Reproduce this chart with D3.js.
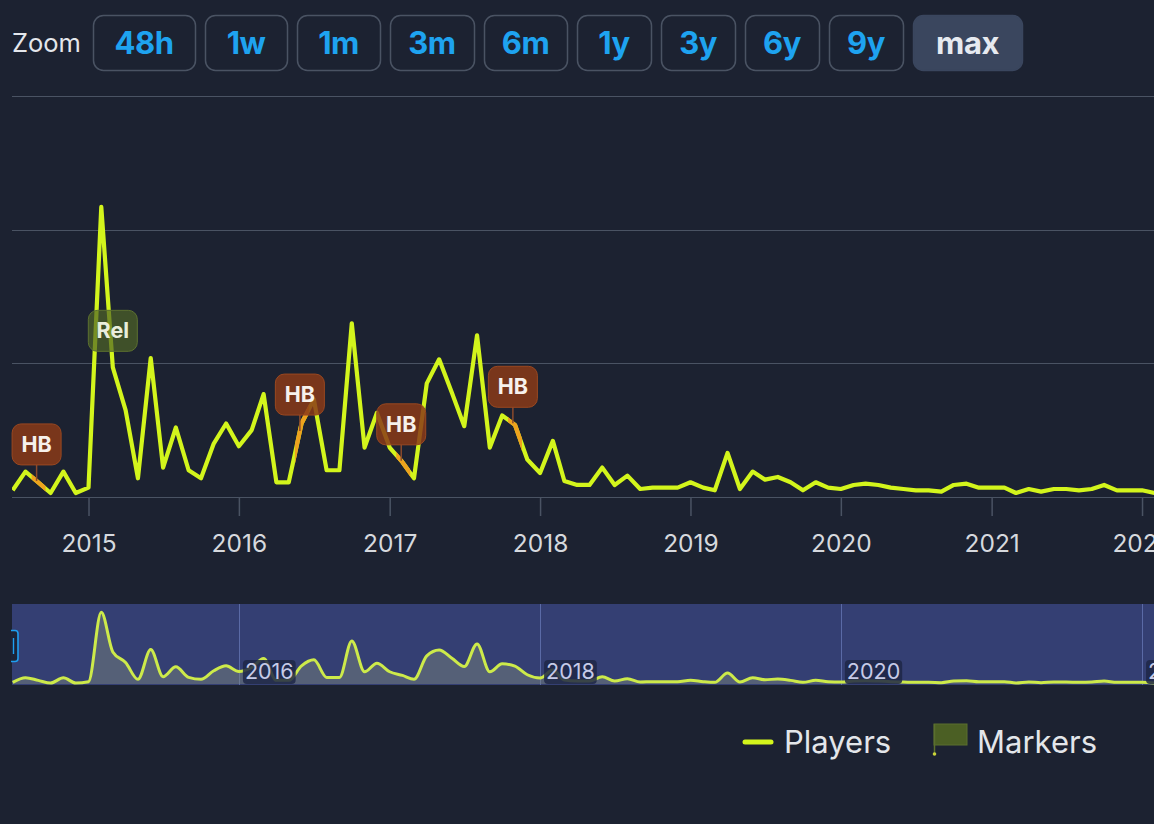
<!DOCTYPE html>
<html><head><meta charset="utf-8">
<script src="https://cdn.jsdelivr.net/npm/d3@7"></script>
<style>
html,body{margin:0;padding:0;background:#1c2231;overflow:hidden;}
svg{display:block;font-family:Inter,"Noto Sans",sans-serif;}
</style></head>
<body>
<svg id="c" width="1154" height="824"></svg>
<script>
// ---- data ----
const zoomLabels = ["48h","1w","1m","3m","6m","1y","3y","6y","9y","max"];
const activeZoom = "max";
const startMonth = "2014-07-01";
// monthly players (relative units, gridline = 1)
const players = [
  0.05,0.19,0.11,0.03,0.19,0.03,
  0.07,2.17,0.97,0.65,0.14,1.04,0.22,0.52,0.20,0.14,0.40,0.55,
  0.38,0.50,0.77,0.11,0.11,0.55,0.73,0.20,0.20,1.30,0.37,0.63,
  0.37,0.26,0.14,0.85,1.03,0.78,0.53,1.21,0.37,0.61,0.54,0.28,
  0.18,0.42,0.12,0.09,0.09,0.22,0.09,0.16,0.06,0.07,0.07,0.07,
  0.11,0.07,0.05,0.33,0.06,0.19,0.13,0.15,0.11,0.05,0.11,0.07,
  0.06,0.09,0.10,0.09,0.07,0.06,0.05,0.05,0.04,0.09,0.10,0.07,
  0.07,0.07,0.03,0.06,0.04,0.06,0.06,0.05,0.06,0.09,0.05,0.05,
  0.05,0.03
];
const markerDates = ["2014-08-28","2015-03-01","2016-05-28","2017-01-29","2017-10-27"];
const markerLabels = ["HB","Rel","HB","HB","HB"];
const yTicks = [0,1,2,3];
const legendLabels = ["Players","Markers"];

// ---- derived ----
const parse = d3.utcParse("%Y-%m-%d");
const t0 = parse(startMonth);
const series = players.map((v,i)=>({date:d3.utcMonth.offset(t0,i), v}));
const markers = markerDates.map((d,i)=>({date:parse(d), label:markerLabels[i]}));

const W = 1154;
const svg = d3.select("#c");

// ---- zoom buttons ----
svg.append("text").attr("x",12).attr("y",52).attr("fill","#e4e7ec")
  .attr("font-size",25.5).text("Zoom");
let bx = 93;
const widths = {"48h":102,"1w":82,"1m":83,"3m":84,"6m":83,"1y":74,"3y":74,"6y":74,"9y":74,"max":109};
const gB = svg.append("g");
zoomLabels.forEach((z)=>{
  const w = widths[z];
  const act = z===activeZoom;
  gB.append("rect").attr("x",bx+0.5).attr("y",15.5).attr("width",w).attr("height",55).attr("rx",10)
    .attr("fill",act?"#3a465e":"none").attr("stroke",act?"#3a465e":"#4a5363").attr("stroke-width",1.5);
  gB.append("text").attr("x",bx+w/2).attr("y",54).attr("text-anchor","middle")
    .attr("font-size",31).attr("font-weight",700).attr("letter-spacing",-0.5)
    .attr("fill",act?"#e6eaf0":"#1ea3f0").text(z);
  bx += w + 10;
});

// ---- main chart ----
const x = d3.scaleUtc().domain([parse("2014-07-01"), parse("2022-02-01")]).range([12.7,1154.8]);
const y = d3.scaleLinear().domain([0,3]).range([497,96]);

const defs = svg.append("defs");
defs.append("clipPath").attr("id","plot").append("rect").attr("x",12).attr("y",80).attr("width",W-12).attr("height",430);

// gridlines
svg.append("g").selectAll("line").data(yTicks).join("line")
  .attr("x1",12).attr("x2",W).attr("y1",d=>Math.round(y(d))+0.5).attr("y2",d=>Math.round(y(d))+0.5)
  .attr("stroke","#4a5363").attr("stroke-width",1.2);

// x axis
const xAxis = d3.axisBottom(x).ticks(d3.utcYear.every(1)).tickFormat(d3.utcFormat("%Y")).tickSize(19).tickPadding(19);
const gx = svg.append("g").attr("transform","translate(0,497)").call(xAxis);
gx.select(".domain").remove();
gx.selectAll(".tick line").attr("stroke","#4a5363").attr("stroke-width",1.5);
gx.selectAll(".tick text").attr("fill","#d6d9de").attr("font-size",24.5).attr("font-family","Inter,'Noto Sans',sans-serif");

const line = d3.line().x(d=>x(d.date)).y(d=>y(d.v));
const plot = svg.append("g").attr("clip-path","url(#plot)");
plot.append("path").datum(series).attr("d",line).attr("fill","none")
  .attr("stroke","#d3f51c").attr("stroke-width",4.2).attr("stroke-linejoin","round");

// value at a date by interpolation
function valAt(date){
  const bis = d3.bisector(d=>d.date).left;
  let i = bis(series,date);
  if(i<=0) return series[0].v;
  if(i>=series.length) return series[series.length-1].v;
  const a=series[i-1], b=series[i];
  const t=(date-a.date)/(b.date-a.date);
  return a.v+(b.v-a.v)*t;
}

// orange highlight segments for HB markers
markers.filter(m=>m.label==="HB").forEach((m,i)=>{
  const mx = x(m.date);
  const id = "hl"+i;
  defs.append("clipPath").attr("id",id).append("rect").attr("x",mx-5).attr("y",80).attr("width",14).attr("height",430);
  plot.append("path").datum(series).attr("d",line).attr("fill","none").attr("clip-path",`url(#${id})`)
    .attr("stroke","#eea21e").attr("stroke-width",4.2).attr("stroke-linejoin","round");
});

// flags
const gF = svg.append("g");
markers.forEach(m=>{
  const mx = x(m.date);
  const ly = y(valAt(m.date));
  const bw = 49, bh = 41, gap = 16;
  const top = ly - gap - bh;
  const isHB = m.label==="HB";
  if(isHB){
    gF.append("line").attr("x1",mx).attr("x2",mx).attr("y1",top+bh).attr("y2",ly)
      .attr("stroke","#8a4a2c").attr("stroke-width",1.5);
  }
  gF.append("rect").attr("x",mx-bw/2).attr("y",top).attr("width",bw).attr("height",bh).attr("rx",9)
    .attr("fill",isHB?"#8a3a18":"#4e6426").attr("fill-opacity",isHB?0.85:0.7)
    .attr("stroke",isHB?"#9a4820":"#5c7030").attr("stroke-width",1);
  gF.append("text").attr("x",mx).attr("y",top+bh/2+7.5).attr("text-anchor","middle")
    .attr("font-size",21.5).attr("font-weight",700).attr("fill",isHB?"#f6f1ec":"#e9eddc").text(m.label);
});

// ---- navigator ----
const navTop = 604, navBot = 685;
svg.append("rect").attr("x",12).attr("y",navTop).attr("width",W-12).attr("height",navBot-navTop).attr("fill","#343f73");
const yN = d3.scaleLinear().domain([0,2.42]).range([684,604]);
const gN = svg.append("g");
const navYears = x.ticks(d3.utcYear.every(2));
gN.selectAll("line.ng").data(navYears).join("line").attr("class","ng")
  .attr("x1",d=>Math.round(x(d))+0.5).attr("x2",d=>Math.round(x(d))+0.5).attr("y1",navTop).attr("y2",navBot)
  .attr("stroke","#5a6aa6").attr("stroke-width",1);
const area = d3.area().x(d=>x(d.date)).y0(684).y1(d=>yN(d.v)).curve(d3.curveMonotoneX);
const nline = d3.line().x(d=>x(d.date)).y(d=>yN(d.v)).curve(d3.curveMonotoneX);
gN.append("path").datum(series).attr("d",area).attr("fill","#7f8a7c").attr("fill-opacity",0.45);
gN.append("path").datum(series).attr("d",nline).attr("fill","none").attr("stroke","#cdea4a").attr("stroke-width",3);
navYears.forEach(d=>{
  const tx = x(d)+6;
  const t = gN.append("text").attr("x",tx).attr("y",679).attr("font-size",21.5).attr("fill","#c6cbe8")
    .text(d3.utcFormat("%Y")(d));
  const bb = t.node().getBBox();
  gN.insert("rect","text").attr("x",bb.x-2).attr("y",bb.y+2).attr("width",bb.width+4).attr("height",bb.height-2)
    .attr("rx",4).attr("fill","#1f2746").attr("fill-opacity",0.85);
});
gN.selectAll("text").raise();
// left handle
svg.append("rect").attr("x",6).attr("y",630.5).attr("width",12).attr("height",31).attr("rx",3)
  .attr("fill","#1c2438").attr("stroke","#1e9ff0").attr("stroke-width",1.6);
svg.append("line").attr("x1",13.5).attr("x2",13.5).attr("y1",638).attr("y2",654).attr("stroke","#1e9ff0").attr("stroke-width",1.4);
svg.append("rect").attr("x",0).attr("y",600).attr("width",11).attr("height",90).attr("fill","#1c2231");

// ---- legend ----
const gL = svg.append("g");
gL.append("line").attr("x1",745).attr("x2",771).attr("y1",742).attr("y2",742)
  .attr("stroke","#d3f51c").attr("stroke-width",5).attr("stroke-linecap","round");
gL.append("text").attr("x",784).attr("y",753).attr("font-size",31).attr("fill","#e3e6ea").text(legendLabels[0]);
gL.append("rect").attr("x",934).attr("y",724).attr("width",33).attr("height",21).attr("fill","#4b5f24").attr("stroke","#5a6f2e");
gL.append("line").attr("x1",934.5).attr("x2",934.5).attr("y1",724).attr("y2",754).attr("stroke","#5a6f2e").attr("stroke-width",1.5);
gL.append("circle").attr("cx",934.5).attr("cy",754).attr("r",1.8).attr("fill","#c9d43a");
gL.append("text").attr("x",977).attr("y",753).attr("font-size",31).attr("fill","#e3e6ea").text(legendLabels[1]);
</script>
</body></html>
